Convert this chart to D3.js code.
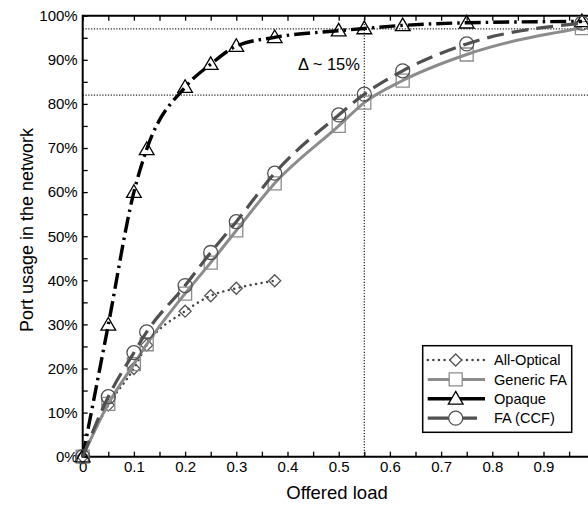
<!DOCTYPE html>
<html>
<head>
<meta charset="utf-8">
<script src="https://cdn.jsdelivr.net/npm/d3@7"></script>
<style>
  body { margin: 0; background: #fff; }
  svg { display: block; font-family: "Liberation Sans", Arial, sans-serif; }
</style>
</head>
<body>
<div id="chart"></div>
<script>
// Data (offered load vs port usage %)
const loadsShort = [0, 0.05, 0.1, 0.125, 0.2, 0.25, 0.3, 0.375];
const loadsLong = [0, 0.05, 0.1, 0.125, 0.2, 0.25, 0.3, 0.375, 0.5, 0.55, 0.625, 0.75, 0.975];

const allOptical = [0, 11.7, 20, 25.3, 33, 36.5, 38.2, 39.9];
const genericFA = [0, 12, 21, 25.5, 37, 44, 51.3, 62, 75, 80.3, 85.3, 91.2, 97.2];
const opaque = [0, 29.9, 60, 69.7, 83.8, 89, 93.1, 95.1, 96.6, 97.1, 97.8, 98.4, 98.7];
const faCCF = [0, 13.6, 23.6, 28.3, 38.8, 46.3, 53.3, 64.3, 77.5, 82.2, 87.5, 93.6, 98.3];

const xTicks = [0, 0.1, 0.2, 0.3, 0.4, 0.5, 0.6, 0.7, 0.8, 0.9];
const yTicks = [0, 10, 20, 30, 40, 50, 60, 70, 80, 90, 100];

// Reference guides
const refLoad = 0.55;
const refLevels = [97, 82];

const W = 588, H = 505;
const M = { left: 82.7, top: 15.7, bottom: 456.7, right: 594.7 };

const x = d3.scaleLinear().domain([0, 1]).range([M.left, M.right]);
const y = d3.scaleLinear().domain([0, 100]).range([M.bottom, M.top]);

const svg = d3.select("#chart").append("svg")
    .attr("width", W)
    .attr("height", H);

// Dotted guide lines
refLevels.forEach(v => {
    svg.append("line")
        .attr("x1", x(0)).attr("x2", W)
        .attr("y1", y(v)).attr("y2", y(v))
        .attr("stroke", "#222").attr("stroke-width", 1.2)
        .attr("stroke-dasharray", "1.2,1.6");
});
svg.append("line")
    .attr("x1", x(refLoad)).attr("x2", x(refLoad))
    .attr("y1", y(100)).attr("y2", y(0))
    .attr("stroke", "#222").attr("stroke-width", 1.2)
    .attr("stroke-dasharray", "1.2,1.6");

svg.append("text")
    .attr("x", 298).attr("y", 70)
    .attr("font-size", 16.5)
    .text("\u0394 ~ 15%");

// Axes (ticks point inward)
const minorX = d3.range(0, 1.0001, 0.05);
const minorY = d3.range(0, 100.01, 5);

const xAxis = svg.append("g")
    .attr("transform", `translate(0,${M.bottom})`)
    .call(d3.axisBottom(x).tickValues(minorX).tickSize(-5).tickFormat(""));
xAxis.select(".domain").remove();

const xLabels = svg.append("g")
    .attr("transform", `translate(0,${M.bottom})`)
    .call(d3.axisBottom(x).tickValues(xTicks).tickSize(0).tickPadding(5)
        .tickFormat(d => d === 0 ? "0" : d3.format(".1f")(d)));
xLabels.select(".domain").remove();
xLabels.selectAll("text").attr("font-size", 15).attr("fill", "#000");

const topAxis = svg.append("g")
    .attr("transform", `translate(0,${M.top})`)
    .call(d3.axisTop(x).tickValues(minorX).tickSize(-5).tickFormat(""));
topAxis.select(".domain").remove();

const yAxis = svg.append("g")
    .attr("transform", `translate(${M.left},0)`)
    .call(d3.axisLeft(y).tickValues(minorY).tickSize(-5).tickFormat(""));
yAxis.select(".domain").remove();

const yLabels = svg.append("g")
    .attr("transform", `translate(${M.left},0)`)
    .call(d3.axisLeft(y).tickValues(yTicks).tickSize(0).tickPadding(5)
        .tickFormat(d => d + "%"));
yLabels.select(".domain").remove();
yLabels.selectAll("text").attr("font-size", 15).attr("fill", "#000");

svg.selectAll(".tick line").attr("stroke", "#000").attr("stroke-width", 1.3);

// Frame
svg.append("path")
    .attr("d", `M${W + 5},${M.top}H${M.left}V${M.bottom}H${W + 5}`)
    .attr("fill", "none").attr("stroke", "#000").attr("stroke-width", 2);

// Axis titles
svg.append("text")
    .attr("x", 337).attr("y", 499)
    .attr("text-anchor", "middle")
    .attr("font-size", 18.5)
    .text("Offered load");

svg.append("text")
    .attr("transform", "translate(33,230) rotate(-90)")
    .attr("text-anchor", "middle")
    .attr("font-size", 18)
    .text("Port usage in the network");

// Marker shapes
const markers = {
    diamond: s => `M0,${-s}L${s},0L0,${s}L${-s},0Z`,
    square: s => `M${-s},${-s}H${s}V${s}H${-s}Z`,
    triangle: s => `M0,${-s * 1.05}L${s * 1.05},${s * 0.75}L${-s * 1.05},${s * 0.75}Z`,
    circle: s => `M${s},0A${s},${s} 0 1 1 ${-s},0A${s},${s} 0 1 1 ${s},0Z`
};

const series = [
    { name: "All-Optical", xs: loadsShort, ys: allOptical, color: "#444", width: 2.4,
      dash: "0.1,5.5", cap: "round", marker: "diamond", size: 6, mcolor: "#555" },
    { name: "Generic FA", xs: loadsLong, ys: genericFA, color: "#8c8c8c", width: 3,
      dash: null, cap: "butt", marker: "square", size: 6.5, mcolor: "#8c8c8c" },
    { name: "Opaque", xs: loadsLong, ys: opaque, color: "#000", width: 3.4,
      dash: "16,5,2.5,5", cap: "butt", marker: "triangle", size: 7, mcolor: "#000" },
    { name: "FA (CCF)", xs: loadsLong, ys: faCCF, color: "#505050", width: 3.2,
      dash: "17,8", cap: "butt", marker: "circle", size: 7, mcolor: "#505050" }
];

const line = d3.line()
    .x(d => x(d[0]))
    .y(d => y(d[1]))
    .curve(d3.curveMonotoneX);

series.forEach(s => {
    const pts = s.xs.map((v, i) => [v, s.ys[i]]);
    svg.append("path")
        .datum(pts)
        .attr("d", line)
        .attr("fill", "none")
        .attr("stroke", s.color)
        .attr("stroke-width", s.width)
        .attr("stroke-linecap", s.cap)
        .attr("stroke-dasharray", s.dash);
    svg.append("g").selectAll("path")
        .data(pts)
        .join("path")
        .attr("transform", d => `translate(${x(d[0])},${y(d[1])})`)
        .attr("d", markers[s.marker](s.size))
        .attr("fill", "none")
        .attr("stroke", s.mcolor)
        .attr("stroke-width", 1.3);
});

// Legend
const legend = svg.append("g");
legend.append("rect")
    .attr("x", 422.7).attr("y", 345.7)
    .attr("width", 149).attr("height", 86.6)
    .attr("fill", "#fff").attr("stroke", "#000").attr("stroke-width", 1.5);

series.forEach((s, i) => {
    const ly = 360 + i * 19.4;
    const x2 = s.name === "FA (CCF)" ? 477 : 485;
    legend.append("line")
        .attr("x1", 427.7).attr("x2", x2)
        .attr("y1", ly).attr("y2", ly)
        .attr("stroke", s.color)
        .attr("stroke-width", s.width)
        .attr("stroke-linecap", s.cap)
        .attr("stroke-dasharray", s.name === "All-Optical" ? "0.1,5.5" : null);
    legend.append("path")
        .attr("transform", `translate(455.7,${ly})`)
        .attr("d", markers[s.marker](s.size))
        .attr("fill", "#fff")
        .attr("stroke", s.mcolor)
        .attr("stroke-width", 1.3);
    legend.append("text")
        .attr("x", 494).attr("y", ly + 5.2)
        .attr("font-size", 14.6)
        .text(s.name);
});
</script>
</body>
</html>
